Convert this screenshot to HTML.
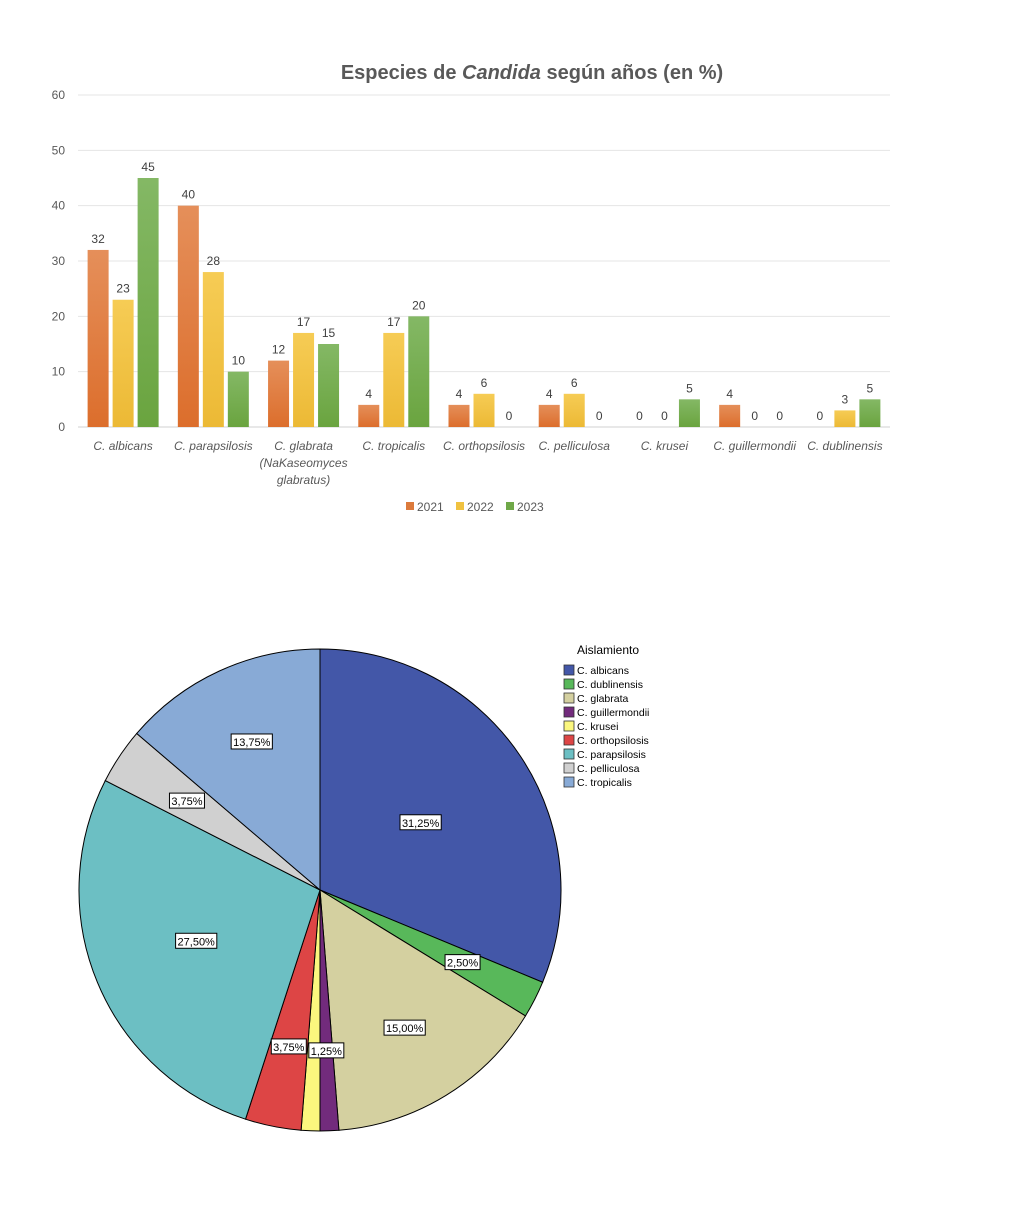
<!DOCTYPE html>
<html><head><meta charset="utf-8"><style>
html,body{margin:0;padding:0;background:#fff;}
svg{display:block;font-family:"Liberation Sans",sans-serif;}
</style></head><body>
<svg id="root" width="1010" height="1212" viewBox="0 0 1010 1212">
<defs>
<linearGradient id="gO" x1="0" y1="0" x2="0" y2="1"><stop offset="0" stop-color="#e58f5a"/><stop offset="1" stop-color="#dc6e2c"/></linearGradient>
<linearGradient id="gY" x1="0" y1="0" x2="0" y2="1"><stop offset="0" stop-color="#f6cc55"/><stop offset="1" stop-color="#ecb935"/></linearGradient>
<linearGradient id="gG" x1="0" y1="0" x2="0" y2="1"><stop offset="0" stop-color="#84b865"/><stop offset="1" stop-color="#6aa43f"/></linearGradient>
</defs>
<g id="bar"></g>
<g id="pie"></g>
</svg>
<script>
const categories=["C. albicans","C. parapsilosis","C. glabrata","C. tropicalis","C. orthopsilosis","C. pelliculosa","C. krusei","C. guillermondii","C. dublinensis"];
const series2021=[32,40,12,4,4,4,0,4,0];
const series2022=[23,28,17,17,6,6,0,0,3];
const series2023=[45,10,15,20,0,0,5,0,5];
const seriesNames=["2021","2022","2023"];
const yTicks=[0,10,20,30,40,50,60];
const pieLabels=["C. albicans","C. dublinensis","C. glabrata","C. guillermondii","C. krusei","C. orthopsilosis","C. parapsilosis","C. pelliculosa","C. tropicalis"];
const pieValues=[31.25,2.5,15,1.25,1.25,3.75,27.5,3.75,13.75];

const NS="http://www.w3.org/2000/svg";
function mk(p,t,a,txt){const e=document.createElementNS(NS,t);for(const k in a)e.setAttribute(k,a[k]);if(txt!==undefined)e.textContent=txt;p.appendChild(e);return e;}
const bar=document.getElementById('bar');
const X0=78,X1=890,Y0=427,Y60=95;
const y=v=>Y0-(v/60)*(Y0-Y60);
const bandW=(X1-X0)/categories.length;
const xc=i=>X0+bandW*(i+0.5);
let t=mk(bar,'text',{x:532,y:79,'text-anchor':'middle','font-size':20,'font-weight':'bold',fill:'#595959'});

mk(t,'tspan',{},'Especies de ');mk(t,'tspan',{'font-style':'italic'},'Candida');mk(t,'tspan',{},' según años (en %)');
yTicks.forEach(v=>{
 const l=mk(bar,'line',{x1:X0,x2:X1,y1:y(v),y2:y(v),stroke:v===0?'#d0d0d0':'#e4e4e4','stroke-width':1});
 
 const tl=mk(bar,'text',{x:65,y:y(v)+4,'text-anchor':'end','font-size':12,fill:'#595959'},String(v));
 
});
const all=[series2021,series2022,series2023],fills=['url(#gO)','url(#gY)','url(#gG)'];
const bw=21,step=25;
categories.forEach((c,i)=>{
 all.forEach((s,k)=>{
  const bx=xc(i)+(k-1)*step-bw/2;
  const r=mk(bar,'rect',{x:bx,y:y(s[i]),width:bw,height:Y0-y(s[i]),fill:fills[k]});
  
  const lb=mk(bar,'text',{x:bx+bw/2,y:y(s[i])-7,'text-anchor':'middle','font-size':12,fill:'#404040'},String(s[i]));
  
 });
 const ct=mk(bar,'text',{x:xc(i),y:450,'text-anchor':'middle','font-size':12,'font-style':'italic',fill:'#595959'});
 
 if(i===2){mk(ct,'tspan',{x:xc(i),dy:0},'C. glabrata');mk(ct,'tspan',{x:xc(i),dy:17},'(NaKaseomyces');mk(ct,'tspan',{x:xc(i),dy:17},'glabratus)');}
 else ct.textContent=c;
});
const legCol=['#dc7a3c','#f0c240','#6fa848'];
seriesNames.forEach((n,k)=>{
 const lx=406+k*50;
 const g=mk(bar,'g',{});
 mk(g,'rect',{x:lx,y:502,width:8,height:8,fill:legCol[k]});
 mk(g,'text',{x:lx+11,y:511,'font-size':12,fill:'#595959'},n);
});

const pie=document.getElementById('pie');
const pieColors=['#4357a8','#58b85a','#d4d0a0','#722b7c','#fbf77e','#dd4545','#6cbfc3','#d0d0d0','#88aad6'];
const labelR=[121,160,162,161,161,160,134,160,163];
const CX=320,CY=890,R=241;
const pt=(a,r)=>[CX+r*Math.sin(a),CY-r*Math.cos(a)];
const total=pieValues.reduce((a,b)=>a+b,0);
let acc=0;const mids=[];
pieValues.forEach((v,i)=>{
 const a0=acc/total*2*Math.PI;acc+=v;const a1=acc/total*2*Math.PI;
 const [x0,y0]=pt(a0,R),[x1,y1]=pt(a1,R);
 const p=mk(pie,'path',{d:`M${CX},${CY} L${x0},${y0} A${R},${R} 0 ${a1-a0>Math.PI?1:0} 1 ${x1},${y1} Z`,fill:pieColors[i],stroke:'#000','stroke-width':1});
 
 mids.push((a0+a1)/2);
});
pieValues.forEach((v,i)=>{
 if(i===4)return;
 const [lx,ly]=pt(mids[i],labelR[i]);
 const s=v.toFixed(2).replace('.',',')+'%';
 const w=s.length*6.2+4;
 const g=mk(pie,'g',{});
 mk(g,'rect',{x:lx-w/2,y:ly-8,width:w,height:15,fill:'#fff',stroke:'#000','stroke-width':1});
 mk(g,'text',{x:lx,y:ly+4,'text-anchor':'middle','font-size':11,fill:'#000'},s);
});
const lt=mk(pie,'text',{x:608,y:654,'text-anchor':'middle','font-size':12,fill:'#000'},'Aislamiento');

pieLabels.forEach((n,i)=>{
 const ly=665+i*14;
 const g=mk(pie,'g',{});
 mk(g,'rect',{x:564,y:ly,width:10,height:10,fill:pieColors[i],stroke:'#333','stroke-width':0.8});
 mk(g,'text',{x:577,y:ly+9,'font-size':10.5,fill:'#000'},n);
});
</script>
</body></html>
